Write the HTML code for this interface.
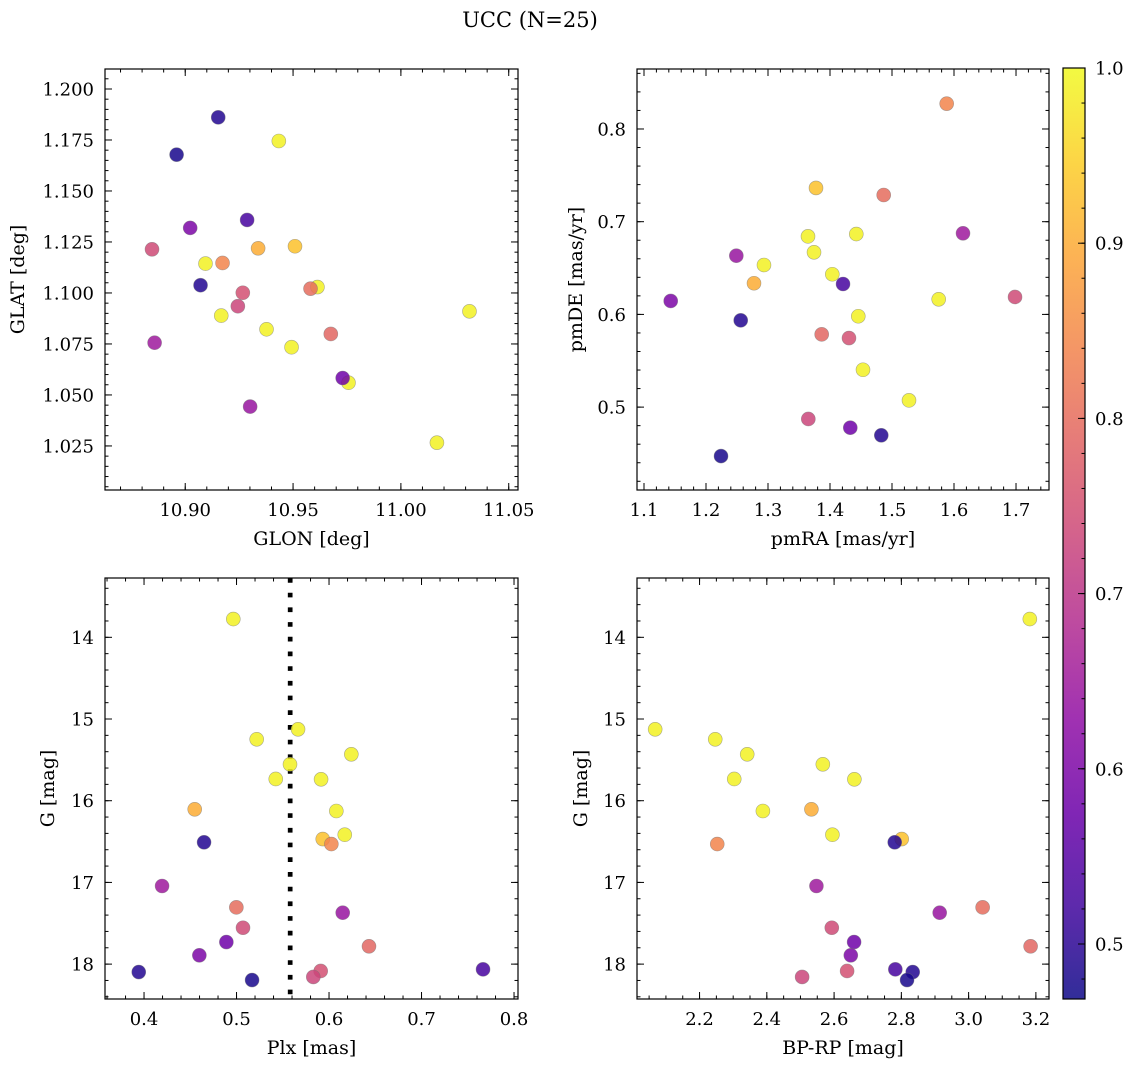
<!DOCTYPE html>
<html><head><meta charset="utf-8"><style>
html,body{margin:0;padding:0;background:#fff;}
svg text{font-family:"DejaVu Serif","Liberation Serif",serif;fill:#000;}
</style></head><body>
<svg id="fig" width="1136" height="1068" viewBox="0 0 1136 1068" xmlns="http://www.w3.org/2000/svg">
<defs>
<linearGradient id="plasma" x1="0" y1="1" x2="0" y2="0"></linearGradient>
</defs>
<text x="530" y="27" font-size="21" text-anchor="middle">UCC (N=25)</text>
</svg>
<script>
// ---- data (one entry per star) ----
const glon = [10.9434,10.9094,10.9613,10.9167,10.9377,10.9493,11.0318,10.9338,10.9757,11.0167,10.9509,10.9071,10.9173,10.8858,10.9581,10.9301,10.8846,10.9730,10.9023,10.9675,10.9267,10.9244,10.9287,10.9153,10.8960];
const glat = [1.1745,1.1144,1.1029,1.0889,1.0822,1.0734,1.0910,1.1219,1.0560,1.0266,1.1229,1.1038,1.1147,1.0756,1.1021,1.0443,1.1214,1.0583,1.1319,1.0799,1.1001,1.0935,1.1358,1.1861,1.1678];
const pmra = [1.3645,1.4424,1.3742,1.2935,1.4037,1.5753,1.4456,1.2774,1.4532,1.5274,1.3774,1.2560,1.5882,1.6145,1.4866,1.2489,1.6984,1.4327,1.1431,1.3866,1.4306,1.3650,1.4210,1.4827,1.2242];
const pmde = [0.6842,0.6867,0.6670,0.6533,0.6433,0.6163,0.5980,0.6336,0.5403,0.5073,0.7364,0.5936,0.8273,0.6875,0.7288,0.6633,0.6188,0.4778,0.6145,0.5785,0.5745,0.4872,0.6328,0.4696,0.4472];
const plx = [0.4965,0.5665,0.5218,0.6241,0.5578,0.5424,0.5914,0.4548,0.6079,0.6170,0.5932,0.4649,0.6025,0.4195,0.4998,0.6148,0.5070,0.4890,0.4598,0.6432,0.5910,0.5830,0.7665,0.3943,0.5168];
const gmag = [13.776,15.126,15.248,15.432,15.554,15.734,15.738,16.105,16.126,16.416,16.469,16.509,16.530,17.044,17.305,17.371,17.555,17.730,17.892,17.782,18.084,18.157,18.064,18.097,18.195];
const bprp = [3.182,2.068,2.2466,2.3417,2.5665,2.3031,2.6603,2.5326,2.3883,2.595,2.8011,2.7803,2.2526,2.5475,3.0417,2.914,2.5932,2.6595,2.6497,3.1843,2.6387,2.505,2.7821,2.8338,2.8169];
const prob = [0.99,0.99,0.99,0.99,0.99,0.99,0.99,0.90,0.99,0.99,0.93,0.49,0.84,0.65,0.80,0.64,0.74,0.58,0.60,0.79,0.75,0.73,0.53,0.49,0.48];
const plxLine = 0.558;
const tlXTicks = [10.90,10.95,11.00,11.05];
const tlYTicks = [1.025,1.050,1.075,1.100,1.125,1.150,1.175,1.200];
const trXTicks = [1.1,1.2,1.3,1.4,1.5,1.6,1.7];
const trYTicks = [0.5,0.6,0.7,0.8];
const blXTicks = [0.4,0.5,0.6,0.7,0.8];
const gTicks = [14,15,16,17,18];
const brXTicks = [2.2,2.4,2.6,2.8,3.0,3.2];
const cbTicks = [0.5,0.6,0.7,0.8,0.9,1.0];

const NS="http://www.w3.org/2000/svg";
const svg=document.getElementById('fig');
const TF=18, AF=19;
function mk(tag,attrs,parent){const e=document.createElementNS(NS,tag);for(const k in attrs)e.setAttribute(k,attrs[k]);(parent||svg).appendChild(e);return e;}
const pl=[[0,'#0d0887'],[0.1,'#41049d'],[0.2,'#6a00a8'],[0.3,'#8f0da4'],[0.4,'#b12a90'],[0.5,'#cc4778'],[0.6,'#e16462'],[0.7,'#f2844b'],[0.8,'#fca636'],[0.9,'#fcce25'],[1,'#f0f921']];
function hx(h){return [1,3,5].map(i=>parseInt(h.substr(i,2),16));}
function cmap(t){t=Math.max(0,Math.min(1,t));for(let i=0;i<pl.length-1;i++){if(t<=pl[i+1][0]){const f=(t-pl[i][0])/(pl[i+1][0]-pl[i][0]);const a=hx(pl[i][1]),b=hx(pl[i+1][1]);return 'rgb('+a.map((v,j)=>Math.round(v+(b[j]-v)*f)).join(',')+')';}}return pl[pl.length-1][1];}
const VMIN=0.4686,VMAX=1.0;
const fmt=(d)=>(v)=>v.toFixed(d);

function panel(o){
  const g=mk('g',{});
  
  
  const sx=v=>o.x0+(v-o.xr[0])/(o.xr[1]-o.xr[0])*(o.x1-o.x0);
  const sy=o.inv?(v=>o.y0+(v-o.yr[0])/(o.yr[1]-o.yr[0])*(o.y1-o.y0)):(v=>o.y1-(v-o.yr[0])/(o.yr[1]-o.yr[0])*(o.y1-o.y0));
  const tk=mk('g',{stroke:'#000','stroke-width':1},g);
  
  
  const minorX=[],minorY=[];
  for(let v=Math.ceil(o.xr[0]/o.xm-1e-9)*o.xm;v<=o.xr[1];v+=o.xm)minorX.push(v);
  for(let v=Math.ceil(o.yr[0]/o.ym-1e-9)*o.ym;v<=o.yr[1];v+=o.ym)minorY.push(v);
  minorX.forEach(v=>{const x=sx(v);mk('line',{x1:x,x2:x,y1:o.y1,y2:o.y1-3.5},tk);mk('line',{x1:x,x2:x,y1:o.y0,y2:o.y0+3.5},tk);});
  minorY.forEach(v=>{const y=sy(v);mk('line',{x1:o.x0,x2:o.x0+3.5,y1:y,y2:y},tk);mk('line',{x1:o.x1,x2:o.x1-3.5,y1:y,y2:y},tk);});
  o.xt.forEach(v=>{const x=sx(v);mk('line',{x1:x,x2:x,y1:o.y1,y2:o.y1-7},tk);mk('line',{x1:x,x2:x,y1:o.y0,y2:o.y0+7},tk);
    const t=mk('text',{x:x,y:o.y1+26,'font-size':TF,'text-anchor':'middle'},g);t.textContent=o.xf(v);
    
    });
  o.yt.forEach(v=>{const y=sy(v);mk('line',{x1:o.x0,x2:o.x0+7,y1:y,y2:y},tk);mk('line',{x1:o.x1,x2:o.x1-7,y1:y,y2:y},tk);
    const t=mk('text',{x:o.x0-11,y:y+6.5,'font-size':TF,'text-anchor':'end'},g);t.textContent=o.yf(v);
    
    });
  if(o.vline!==undefined){const x=sx(o.vline);const l=mk('line',{x1:x,x2:x,y1:o.y0,y2:o.y1,stroke:'#000','stroke-width':4.7,'stroke-dasharray':'4.7 10'},g);
    
    }
  o.xs.forEach((xv,i)=>{const c=mk('circle',{cx:sx(xv),cy:sy(o.ys[i]),r:7,fill:cmap((prob[i]-VMIN)/(VMAX-VMIN)),'fill-opacity':0.85,stroke:'#777','stroke-opacity':0.6,'stroke-width':0.6},g);
    
    });
  const fr=mk('rect',{x:o.x0,y:o.y0,width:o.x1-o.x0,height:o.y1-o.y0,fill:'none',stroke:'#000','stroke-width':1.2},g);
  
  
  const xl=mk('text',{x:(o.x0+o.x1)/2,y:o.y1+55,'font-size':AF,'text-anchor':'middle'},g);xl.textContent=o.xlab;
  
  
  const yc=(o.y0+o.y1)/2;
  const yl=mk('text',{x:o.ylx,y:yc,'font-size':AF,'text-anchor':'middle',transform:'rotate(-90 '+o.ylx+' '+yc+')'},g);yl.textContent=o.ylab;
  
  
}
panel({name:'glon-glat-panel',x0:105,x1:518,y0:69,y1:490,xr:[10.8628,11.0543],yr:[1.0034,1.2098],xt:tlXTicks,yt:tlYTicks,xm:0.01,ym:0.005,xf:fmt(2),yf:fmt(3),xs:glon,ys:glat,xlab:'GLON [deg]',ylab:'GLAT [deg]',ylx:24});
panel({name:'pm-panel',x0:637,x1:1049,y0:69,y1:490,xr:[1.0887,1.7532],yr:[0.4106,0.8647],xt:trXTicks,yt:trYTicks,xm:0.02,ym:0.02,xf:fmt(1),yf:fmt(1),xs:pmra,ys:pmde,xlab:'pmRA [mas/yr]',ylab:'pmDE [mas/yr]',ylx:582});
panel({name:'plx-g-panel',x0:105,x1:518,y0:578,y1:999,xr:[0.3578,0.8043],yr:[13.274,18.427],inv:true,xt:blXTicks,yt:gTicks,xm:0.02,ym:0.2,xf:fmt(1),yf:v=>String(v),xs:plx,ys:gmag,xlab:'Plx [mas]',ylab:'G [mag]',ylx:54,vline:plxLine});
panel({name:'cmd-panel',x0:637,x1:1049,y0:578,y1:999,xr:[2.014,3.239],yr:[13.274,18.427],inv:true,xt:brXTicks,yt:gTicks,xm:0.05,ym:0.2,xf:fmt(1),yf:v=>String(v),xs:bprp,ys:gmag,xlab:'BP-RP [mag]',ylab:'G [mag]',ylx:587});
const grad=document.getElementById('plasma');
const N=20;
for(let i=0;i<=N;i++){const v=VMIN+(VMAX-VMIN)*i/N;mk('stop',{offset:(i/N),'stop-color':cmap((v-VMIN)/(VMAX-VMIN)),'stop-opacity':0.85},grad);}
const cb=mk('g',{});


const cy0=68,cy1=999,cx0=1063,cx1=1085;
const cys=v=>cy1-(v-VMIN)/(VMAX-VMIN)*(cy1-cy0);
mk('rect',{x:cx0,y:cy0,width:cx1-cx0,height:cy1-cy0,fill:'url(#plasma)',stroke:'#000','stroke-width':1.2},cb);
for(let v=0.48;v<=1.0001;v+=0.02){const y=cys(v);mk('line',{x1:cx1,x2:cx1-3.5,y1:y,y2:y,stroke:'#000'},cb);}
cbTicks.forEach(v=>{const y=cys(v);mk('line',{x1:cx1,x2:cx1-7,y1:y,y2:y,stroke:'#000'},cb);
  const t=mk('text',{x:1095,y:y+6.5,'font-size':TF},cb);t.textContent=v.toFixed(1);
  
  });
</script>
</body></html>
